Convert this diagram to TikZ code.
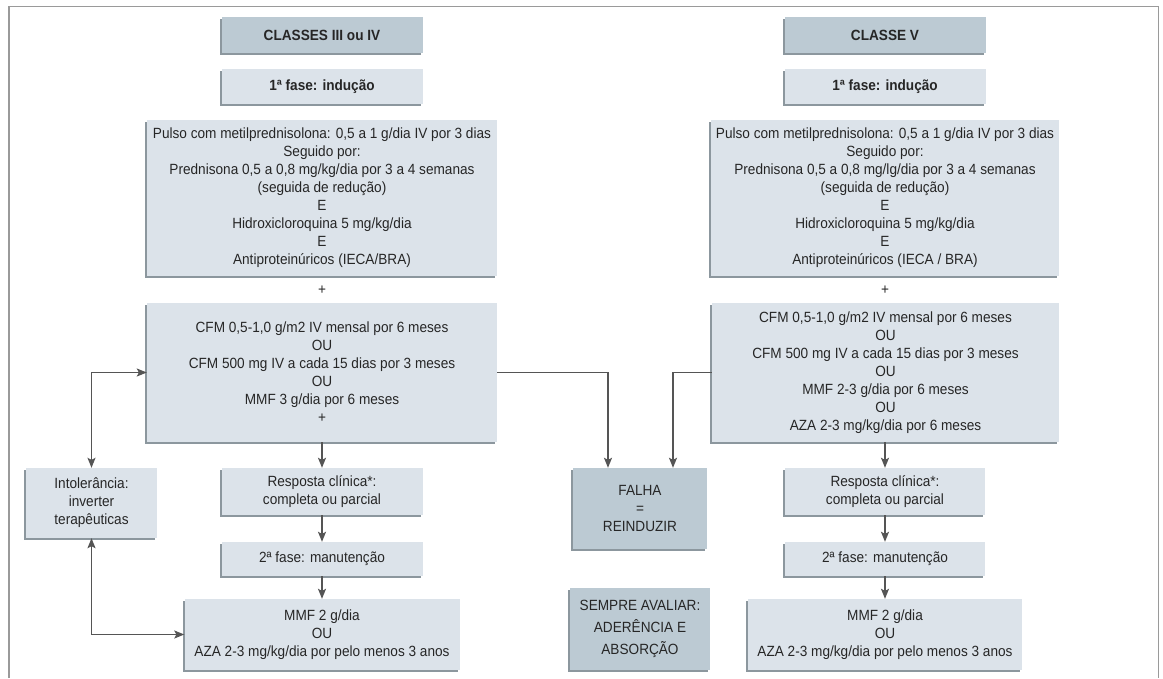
\documentclass[tikz,border=0pt]{standalone}
\usepackage{fontspec}
\setmainfont{Liberation Sans}[FakeStretch=0.92]
\usetikzlibrary{arrows.meta,calc,shadows}
\definecolor{hdrfill}{HTML}{BCCAD3}
\definecolor{boxfill}{HTML}{DCE3EA}
\definecolor{shadowc}{HTML}{8C979E}
\definecolor{txt}{HTML}{262626}
\definecolor{linec}{HTML}{555555}
\definecolor{framec}{HTML}{9A9A9A}
\begin{document}
\begin{tikzpicture}[x=1pt,y=-1pt,
  base/.style={inner sep=0pt, align=center, text=txt,
    font=\fontsize{14.8}{18}\selectfont,
    general shadow={fill=shadowc, shadow xshift=-2pt, shadow yshift=-2pt}},
  hdrbox/.style={base, fill=hdrfill},
  litbox/.style={base, fill=boxfill},
  plain/.style={inner sep=0pt, text=txt, font=\fontsize{14.8}{18}\selectfont},
  arr/.style={draw=linec, line width=1.3pt, -{Stealth[length=10pt,width=8pt,inset=2pt]}},
  darr/.style={draw=linec, line width=1.3pt, {Stealth[length=10pt,width=8pt,inset=2pt]}-{Stealth[length=10pt,width=8pt,inset=2pt]}},
  ln/.style={draw=linec, line width=1.3pt}
]
\useasboundingbox (0,0) rectangle (1163,678);
\draw[framec, line width=1.2pt] (9,678) -- (9,6.5) -- (1158.5,6.5) -- (1158.5,678);

% ---------- left column ----------
\node[hdrbox, minimum width=201, minimum height=36] (hdrL) at (322,35) {\textbf{CLASSES III ou IV}};
\node[litbox, minimum width=201, minimum height=35] (faseL) at (322,86.5) {\textbf{1ª fase: indução}};
\node[litbox, minimum width=350, minimum height=156] (indL) at (322,198)
  {Pulso com metilprednisolona: 0,5 a 1 g/dia IV por 3 dias\\Seguido por:\\Prednisona 0,5 a 0,8 mg/kg/dia por 3 a 4 semanas\\(seguida de redução)\\E\\Hidroxicloroquina 5 mg/kg/dia\\E\\Antiproteinúricos (IECA/BRA)};
\node[plain] (plusL) at (322,290) {+};
\node[litbox, minimum width=350, minimum height=139] (cfmL) at (322,372.5)
  {CFM 0,5-1,0 g/m2 IV mensal por 6 meses\\OU\\CFM 500 mg IV a cada 15 dias por 3 meses\\OU\\MMF 3 g/dia por 6 meses\\+};
\node[litbox, minimum width=201, minimum height=47] (respL) at (322,491.5)
  {Resposta clínica*:\\completa ou parcial};
\node[litbox, minimum width=201, minimum height=34] (manL) at (322,559) {2ª fase: manutenção};
\node[litbox, minimum width=275, minimum height=71] (mmfL) at (322,634.5)
  {MMF 2 g/dia\\OU\\AZA 2-3 mg/kg/dia por pelo menos 3 anos};
\node[litbox, minimum width=131, minimum height=70] (intol) at (91.5,503)
  {Intolerância:\\inverter\\terapêuticas};

% ---------- middle ----------
\node[hdrbox, minimum width=134, minimum height=81] (falha) at (640,508.5)
  {FALHA\\=\\REINDUZIR};
\node[hdrbox, minimum width=140, minimum height=82, font=\fontsize{14.8}{22}\selectfont] (sempre) at (640,629)
  {SEMPRE AVALIAR:\\ADERÊNCIA E\\ABSORÇÃO};

% ---------- right column ----------
\node[hdrbox, minimum width=201, minimum height=36] (hdrR) at (885,35) {\textbf{CLASSE V}};
\node[litbox, minimum width=201, minimum height=35] (faseR) at (885,86.5) {\textbf{1ª fase: indução}};
\node[litbox, minimum width=348, minimum height=156] (indR) at (885,198)
  {Pulso com metilprednisolona: 0,5 a 1 g/dia IV por 3 dias\\Seguido por:\\Prednisona 0,5 a 0,8 mg/lg/dia por 3 a 4 semanas\\(seguida de redução)\\E\\Hidroxicloroquina 5 mg/kg/dia\\E\\Antiproteinúricos (IECA / BRA)};
\node[plain] (plusR) at (885,290) {+};
\node[litbox, minimum width=347, minimum height=139] (cfmR) at (885.5,372.5)
  {CFM 0,5-1,0 g/m2 IV mensal por 6 meses\\OU\\CFM 500 mg IV a cada 15 dias por 3 meses\\OU\\MMF 2-3 g/dia por 6 meses\\OU\\AZA 2-3 mg/kg/dia por 6 meses};
\node[litbox, minimum width=200, minimum height=47] (respR) at (885,491.5)
  {Resposta clínica*:\\completa ou parcial};
\node[litbox, minimum width=200, minimum height=34] (manR) at (885,559) {2ª fase: manutenção};
\node[litbox, minimum width=274, minimum height=71] (mmfR) at (885,634.5)
  {MMF 2 g/dia\\OU\\AZA 2-3 mg/kg/dia por pelo menos 3 anos};

% ---------- connectors ----------
\draw[arr] (cfmL.south) -- (respL.north);
\draw[arr] (respL.south) -- (manL.north);
\draw[arr] (manL.south) -- (mmfL.north);
\draw[arr] (cfmR.south -| respR.north) -- (respR.north);
\draw[arr] (respR.south) -- (manR.north);
\draw[arr] (manR.south) -- (mmfR.north);
\draw[darr] (intol.north) |- (cfmL.west);
\draw[darr] (intol.south) |- (mmfL.west);
\coordinate (fin1) at ($(falha.north)+(-32,0)$);
\coordinate (fin2) at ($(falha.north)+(33,0)$);
\draw[arr] (cfmL.east) -| (fin1);
\draw[arr] (cfmR.west) -| (fin2);
\end{tikzpicture}
\end{document}
